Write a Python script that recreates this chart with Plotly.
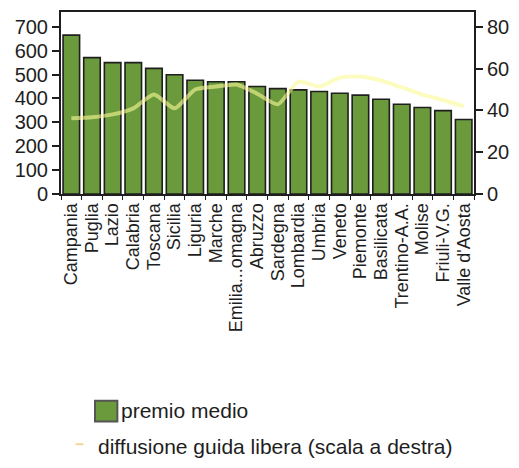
import plotly.graph_objects as go

# Regioni italiane, ordinate per premio medio
regioni = ["Campania", "Puglia", "Lazio", "Calabria", "Toscana", "Sicilia",
           "Liguria", "Marche", "Emilia...omagna", "Abruzzo", "Sardegna",
           "Lombardia", "Umbria", "Veneto", "Piemonte", "Basilicata",
           "Trentino-A.A.", "Molise", "Friuli-V.G.", "Valle d'Aosta"]

# Premio medio (scala a sinistra)
premio_medio = [665, 571, 550, 550, 526, 499, 476, 470, 470, 450,
                441, 436, 429, 422, 414, 397, 376, 362, 349, 312]

# Diffusione guida libera, % (scala a destra)
guida_libera = [36.2, 36.7, 38.1, 41.0, 47.6, 41.0, 50.0, 51.4, 52.4, 48.0,
                42.9, 53.8, 51.4, 55.7, 56.2, 54.3, 51.0, 47.6, 45.0, 42.0]

left_ticks = [0, 100, 200, 300, 400, 500, 600, 700]
right_ticks = [0, 20, 40, 60, 80]

BAR_GREEN = "#6b9a3c"
LINE_YELLOW = "rgba(250,250,150,0.6)"
INK = "#1e1e1e"
FONT = "Liberation Sans, Arial, sans-serif"

fig = go.Figure()

fig.add_trace(go.Bar(
    x=regioni, y=premio_medio, name="premio medio",
    marker=dict(color=BAR_GREEN, line=dict(color=INK, width=1.6)),
    showlegend=False,
))

fig.add_trace(go.Scatter(
    x=regioni, y=guida_libera, yaxis="y2", mode="lines",
    name="diffusione guida libera (scala a destra)",
    line=dict(color=LINE_YELLOW, width=4, shape="spline", smoothing=0.6),
    showlegend=False,
))

fig.update_layout(
    width=519, height=468,
    margin=dict(l=61, r=33, t=10, b=274),
    paper_bgcolor="white", plot_bgcolor="white",
    font=dict(family=FONT, color=INK),
    bargap=0.2,
    xaxis=dict(
        tickmode="array", tickvals=regioni, ticktext=regioni,
        showline=True, linecolor=INK, linewidth=2, mirror=True,
        ticks="outside", tickson="boundaries", ticklen=4, tickcolor=INK,
        tickangle=-90, tickfont=dict(size=18, family=FONT, color=INK),
        showgrid=False,
    ),
    yaxis=dict(
        range=[0, 762], tickvals=left_ticks,
        showline=True, linecolor=INK, linewidth=2, mirror=True,
        ticks="outside", ticklen=7, tickwidth=2, tickcolor=INK,
        tickfont=dict(size=20, family=FONT, color=INK),
        showgrid=False, zeroline=False,
    ),
    yaxis2=dict(
        range=[0, 87.1], tickvals=right_ticks,
        overlaying="y", side="right",
        showline=True, linecolor=INK, linewidth=2,
        ticks="outside", ticklen=7, tickwidth=2, tickcolor=INK,
        tickfont=dict(size=20, family=FONT, color=INK),
        showgrid=False, zeroline=False,
    ),
)

# Legenda disegnata sotto il grafico
fig.add_shape(type="rect", xref="paper", yref="paper",
              x0=(96 - 61) / 425, x1=(119 - 61) / 425,
              y0=(194 - 424) / 184, y1=(194 - 403) / 184,
              fillcolor=BAR_GREEN, line=dict(color="#555555", width=2))
fig.add_annotation(xref="paper", yref="paper",
                   x=(121 - 61) / 425, y=(194 - 413) / 184,
                   xanchor="left", yanchor="middle", showarrow=False,
                   text="premio medio", font=dict(size=21, family=FONT, color=INK))
fig.add_shape(type="line", xref="paper", yref="paper",
              x0=(76 - 61) / 425, x1=(84 - 61) / 425,
              y0=(194 - 447) / 184, y1=(194 - 447) / 184,
              line=dict(color="rgba(240,200,120,0.8)", width=2))
fig.add_annotation(xref="paper", yref="paper",
                   x=(97 - 61) / 425, y=(194 - 449) / 184,
                   xanchor="left", yanchor="middle", showarrow=False,
                   text="diffusione guida libera (scala a destra)",
                   font=dict(size=21, family=FONT, color=INK))

fig.write_html("out.html")
